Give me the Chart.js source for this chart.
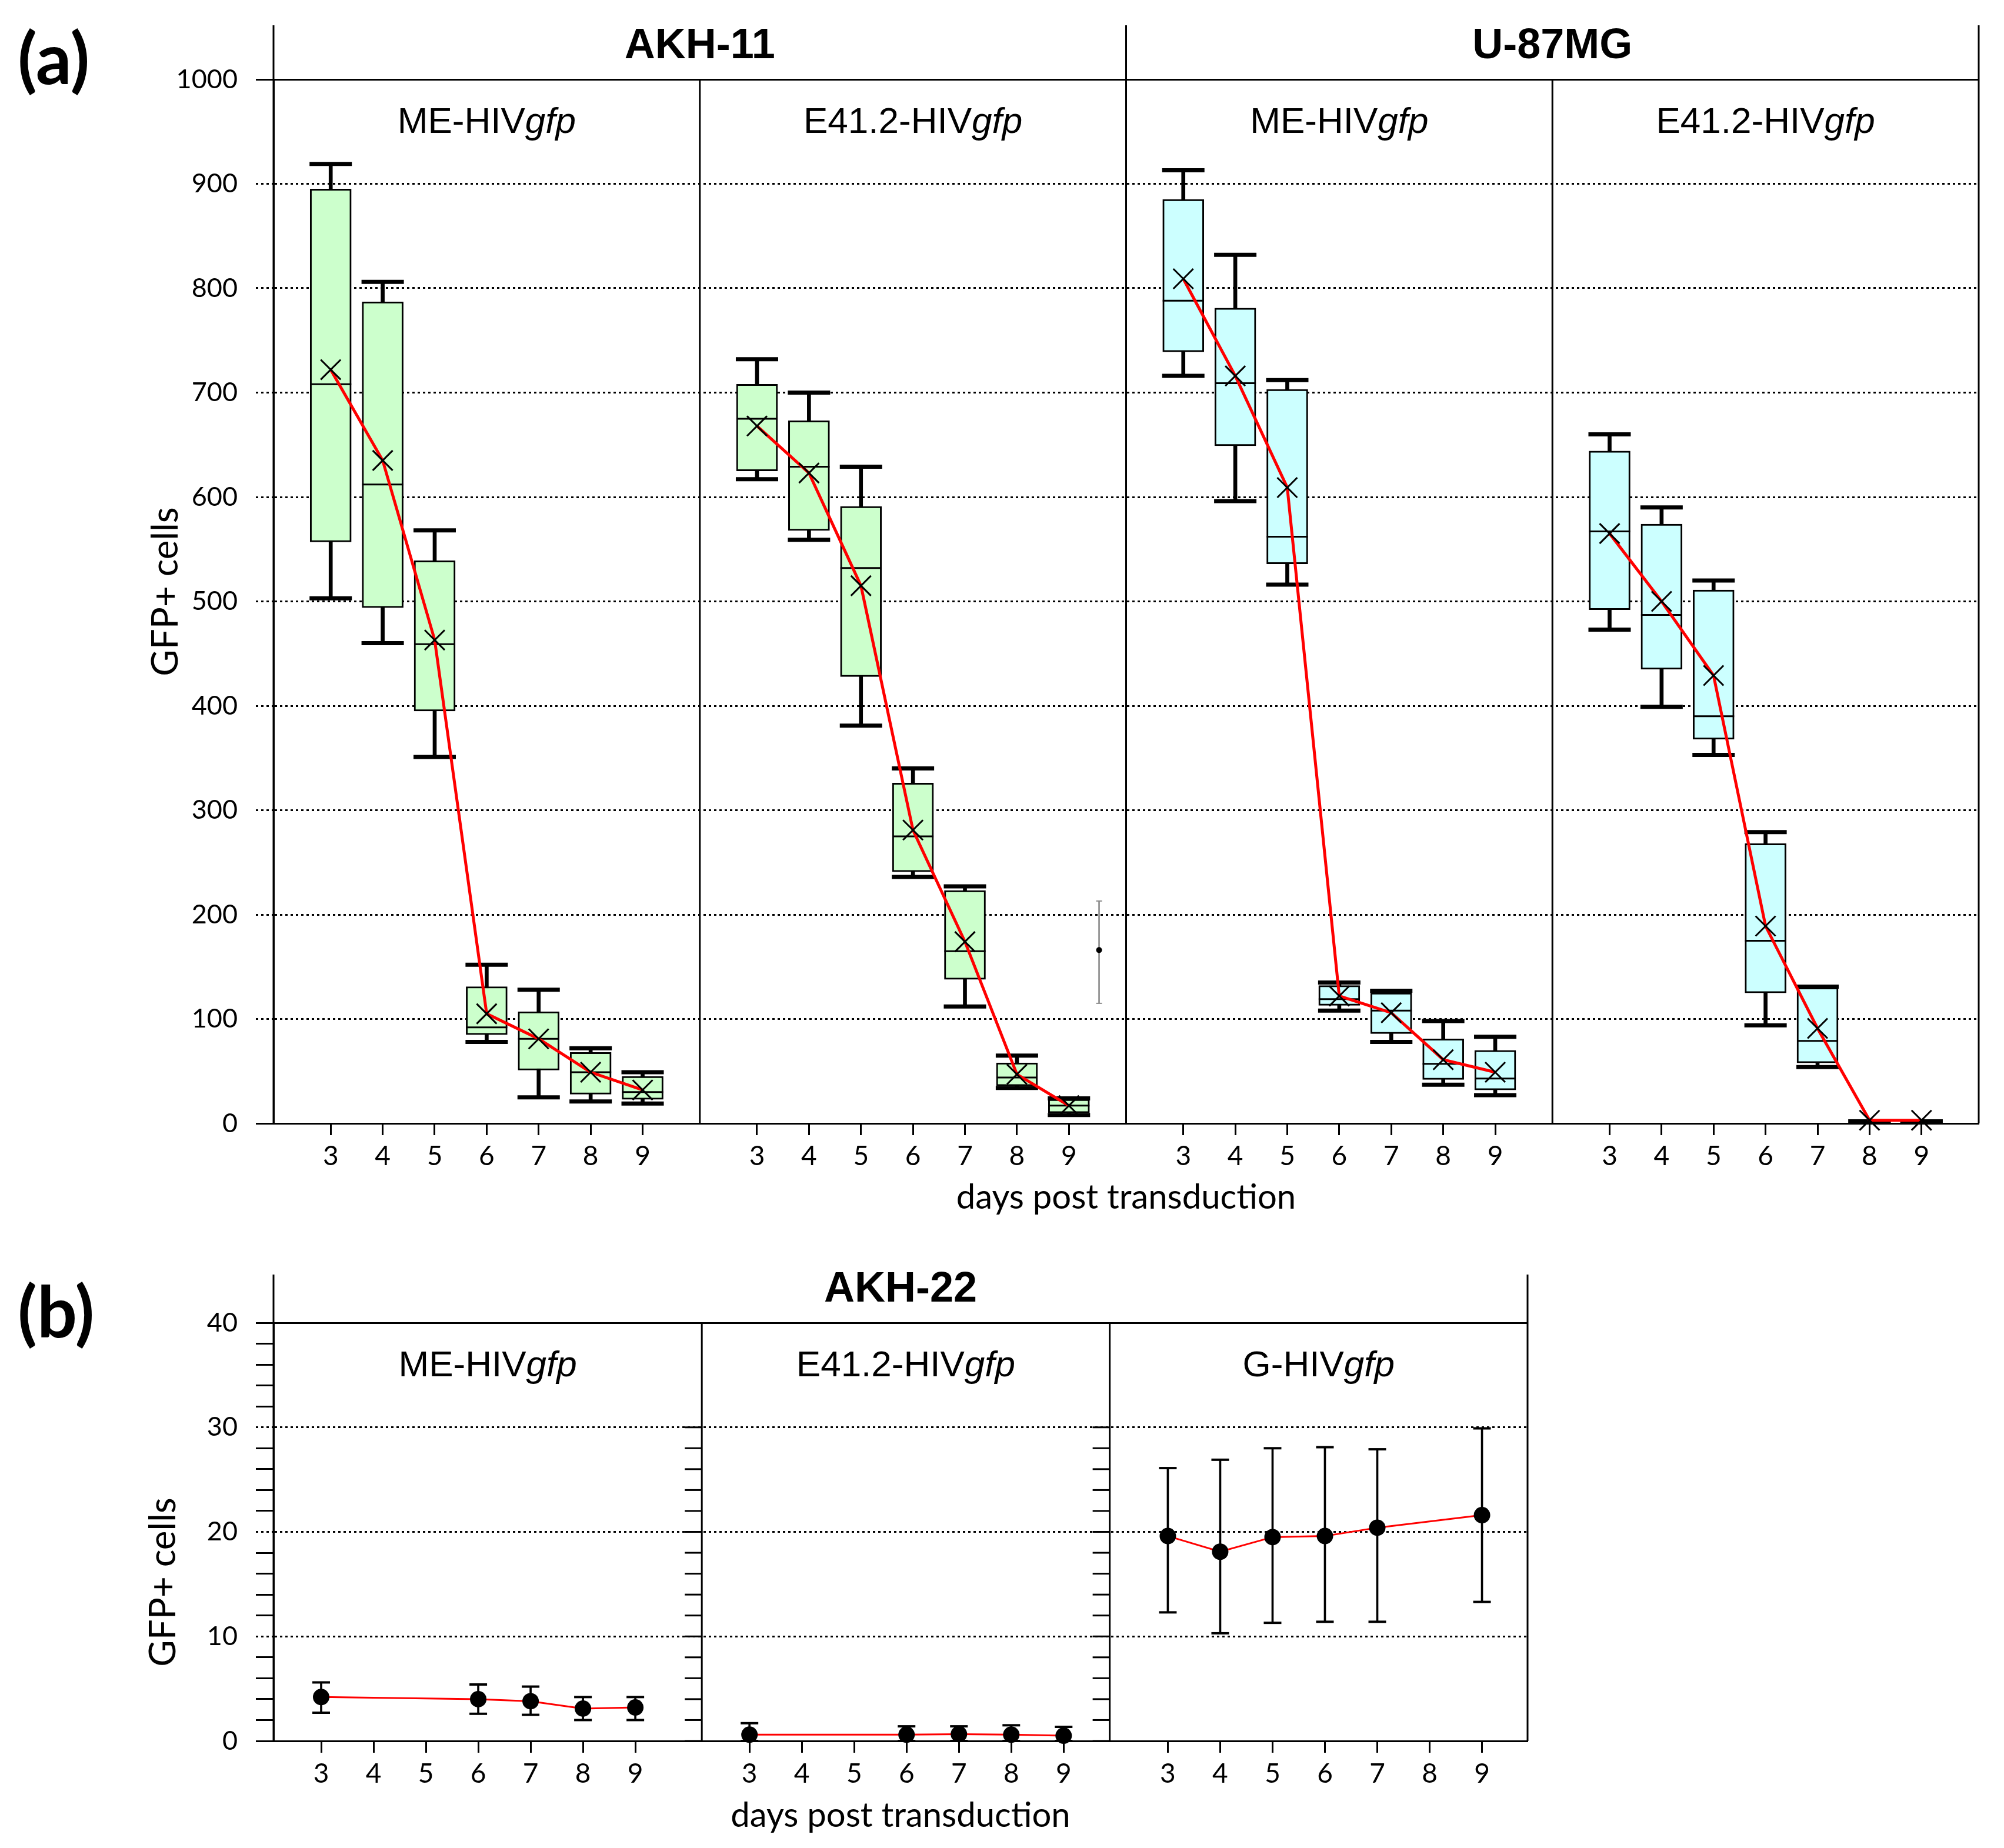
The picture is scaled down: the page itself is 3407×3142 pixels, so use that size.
<!DOCTYPE html>
<html>
<head>
<meta charset="utf-8">
<title>GFP+ cells after transduction</title>
<script src="https://cdn.jsdelivr.net/npm/chart.js@4.4.1/dist/chart.umd.min.js"></script>
<style>
  html, body { margin: 0; padding: 0; background: #fff; }
  #wrap { position: relative; width: 3407px; height: 3142px; }
  canvas { position: absolute; left: 0; }
  #chartA { top: 0; }
  #chartB { top: 2080px; }
</style>
</head>
<body>
<div id="wrap">
  <canvas id="chartA" width="3407" height="2080"></canvas>
  <canvas id="chartB" width="3407" height="1062"></canvas>
</div>
<script>
// (a) box plots, one row per panel: AKH-11 ME, AKH-11 E41.2, U-87MG ME, U-87MG E41.2
const days = [3, 4, 5, 6, 7, 8, 9];
const cellLinesA = ['AKH-11', 'U-87MG'];
const vectorsA = ['ME-HIV', 'E41.2-HIV', 'ME-HIV', 'E41.2-HIV'];
const boxMin = [
    [503, 460, 351, 78, 25, 21, 19],
    [617, 559, 381, 236, 112, 34, 8],
    [716, 596, 516, 108, 78, 37, 27],
    [473, 399, 353, 94, 54, 2, 2]
];
const boxQ1 = [
    [557, 494, 395, 85, 51, 28, 23],
    [625, 568, 428, 241, 138, 36, 10],
    [739, 649, 536, 113, 86, 42, 32],
    [492, 435, 368, 125, 58, 2, 2]
];
const boxMedian = [
    [708, 612, 459, 92, 81, 49, 30],
    [675, 629, 532, 275, 165, 44, 17],
    [788, 709, 562, 119, 108, 57, 43],
    [567, 487, 390, 175, 79, 2, 2]
];
const boxQ3 = [
    [895, 787, 539, 131, 107, 68, 45],
    [708, 673, 591, 326, 223, 58, 23],
    [885, 781, 703, 132, 125, 81, 70],
    [644, 574, 511, 268, 130, 2, 2]
];
const boxMax = [
    [919, 806, 568, 152, 128, 72, 49],
    [732, 700, 629, 340, 227, 65, 24],
    [913, 832, 712, 135, 127, 98, 83],
    [660, 590, 520, 279, 131, 2, 2]
];
const boxMean = [
    [722, 635, 463, 105, 81, 49, 32],
    [668, 623, 515, 281, 174, 47, 17],
    [809, 716, 609, 122, 106, 61, 49],
    [565, 500, 429, 189, 91, 3, 3]
];
// lone grey error bar right of day 9 in the AKH-11 / E41.2 panel
const strayDay = 9.58;
const strayValues = [115, 166, 213]; // low, point, high

// (b) mean +- error, one row per panel: ME, E41.2, G
const cellLineB = 'AKH-22';
const vectorsB = ['ME-HIV', 'E41.2-HIV', 'G-HIV'];
const dotDays = [[3, 6, 7, 8, 9], [3, 6, 7, 8, 9], [3, 4, 5, 6, 7, 9]];
const dotMean = [
    [4.2, 4.0, 3.8, 3.1, 3.2],
    [0.6, 0.6, 0.65, 0.6, 0.5],
    [19.6, 18.1, 19.5, 19.6, 20.4, 21.6]
];
const dotHigh = [
    [5.6, 5.4, 5.2, 4.2, 4.2],
    [1.7, 1.4, 1.4, 1.5, 1.35],
    [26.1, 26.9, 28.0, 28.1, 27.9, 29.9]
];
const dotLow = [
    [2.7, 2.6, 2.5, 2.0, 2.0],
    [0, 0, 0, 0, 0],
    [12.3, 10.3, 11.3, 11.4, 11.4, 13.3]
];

const FONT = 'Lato';
const TITLE_FONT = 'Liberation Sans';

// each panel gets its own stretch of one linear x axis
function panelMap(lo, width) {
    const offs = [];
    let acc = 0;
    width.forEach(w => { offs.push(acc); acc += w; });
    return {
        total: acc,
        offs,
        x: (p, d) => offs[p] + d - lo[p],
        day: v => {
            let p = offs.length - 1;
            while (p > 0 && v < offs[p] - 1e-6) p--;
            return Math.round(v - offs[p] + lo[p]);
        },
        edge: i => (i < offs.length ? offs[i] : acc)
    };
}
const mapA = panelMap([1.9, 1.9, 1.9, 1.9], [8.2, 8.2, 8.2, 8.2]);
const mapB = panelMap([2.09, 2.09, 1.89], [8.18, 7.79, 7.98]);

function drawVector(ctx, name, cx, baseline) {
    const regular = `62px "${TITLE_FONT}"`;
    const italic = `italic 62px "${TITLE_FONT}"`;
    ctx.font = regular;
    const w1 = ctx.measureText(name).width;
    ctx.font = italic;
    const w2 = ctx.measureText('gfp').width;
    const x0 = cx - (w1 + w2) / 2;
    ctx.textAlign = 'left';
    ctx.font = regular;
    ctx.fillText(name, x0, baseline);
    ctx.font = italic;
    ctx.fillText('gfp', x0 + w1, baseline);
}

// frame lines, header titles, y title and panel letter
const panelFrame = {
    id: 'panelFrame',
    afterDraw(chart, args, o) {
        const { ctx, chartArea: a, scales: { x, y } } = chart;
        const top = a.top - o.header;
        const seg = (x1, y1, x2, y2) => { ctx.beginPath(); ctx.moveTo(x1, y1); ctx.lineTo(x2, y2); ctx.stroke(); };
        ctx.save();
        ctx.strokeStyle = '#000';
        ctx.lineWidth = 3;
        seg(a.left, top, a.left, a.bottom);
        seg(a.right, top, a.right, a.bottom);
        for (let i = 1; i < o.map.offs.length; i++) {
            const px = x.getPixelForValue(o.map.offs[i]);
            seg(px, o.groupEdges.includes(i) ? top : a.top, px, a.bottom);
            if (o.sideTicks) {
                y.ticks.filter(t => t.value <= 30).forEach(t => {
                    const py = y.getPixelForValue(t.value);
                    seg(px - 29, py, px, py);
                });
            }
        }
        ctx.fillStyle = '#000';
        ctx.textBaseline = 'alphabetic';
        ctx.textAlign = 'center';
        ctx.font = `bold 72px "${TITLE_FONT}"`;
        o.groups.forEach(g => {
            const cx = (x.getPixelForValue(o.map.edge(g.from)) + x.getPixelForValue(o.map.edge(g.to))) / 2;
            ctx.fillText(g.text, cx, a.top - 36);
        });
        o.vectors.forEach((v, p) => {
            const cx = (x.getPixelForValue(o.map.edge(p)) + x.getPixelForValue(o.map.edge(p + 1))) / 2;
            drawVector(ctx, v, cx, a.top + 91);
        });
        // rotated y title
        ctx.save();
        ctx.translate(o.yTitle[0], o.yTitle[1]);
        ctx.rotate(-Math.PI / 2);
        ctx.textAlign = 'center';
        ctx.textBaseline = 'middle';
        ctx.font = `62px "${FONT}"`;
        ctx.fillText('GFP+ cells', 0, 0);
        ctx.restore();
        ctx.textAlign = 'left';
        ctx.font = `bold 120px "${FONT}"`;
        ctx.fillText(o.letter, 30, o.letterY);
        ctx.restore();
    }
};

function xAxis(map, height, titlePad) {
    const tickVals = [];
    map.offs.forEach((_, p) => days.forEach(d => tickVals.push(map.x(p, d))));
    return {
        type: 'linear',
        min: 0,
        max: map.total,
        offset: false,
        afterBuildTicks: s => { s.ticks = tickVals.map(v => ({ value: v })); },
        ticks: {
            autoSkip: false, maxRotation: 0, padding: 9, color: '#000',
            font: { family: FONT, size: 46 },
            callback: v => map.day(v)
        },
        grid: { drawOnChartArea: false, drawTicks: true, tickLength: 20, tickWidth: 3, tickColor: '#000', offset: false },
        border: { display: true, color: '#000', width: 3 },
        title: {
            display: true, text: 'days post transduction', color: '#000',
            font: { family: FONT, size: 58 }, padding: { top: 0, bottom: titlePad }
        },
        afterFit: s => { s.height = height; }
    };
}

function yAxis(max, step, isDotted, isMinor) {
    return {
        type: 'linear',
        min: 0,
        max: max,
        ticks: {
            stepSize: step, autoSkip: false, padding: 31, color: '#000',
            font: { family: FONT, size: 45 },
            callback: v => (isMinor(v) ? '' : v)
        },
        grid: {
            color: c => (c.tick && isMinor(c.tick.value) ? 'rgba(0,0,0,0)' : '#000'),
            lineWidth: 3, tickLength: 30, tickWidth: 3, tickColor: '#000',
            tickBorderDash: c => (c.tick && isDotted(c.tick.value) ? [4, 5] : [])
        },
        border: { display: true, color: '#000', width: 3, dash: c => (c.tick && isDotted(c.tick.value) ? [4, 5] : []) },
        afterFit: s => { s.width = 465; }
    };
}

// ---- chart (a) ----
const fillA = ['#ccffcc', '#ccffcc', '#ccffff', '#ccffff'];
const datasetsA = [];
vectorsA.forEach((_, p) => {
    const pts = arr => days.map((d, i) => ({ x: mapA.x(p, d), y: arr[p][i] }));
    const rng = (lo, hi) => days.map((d, i) => ({ x: mapA.x(p, d), y: [lo[p][i], hi[p][i]] }));
    datasetsA.push(
        { type: 'bar', data: rng(boxMin, boxMax), backgroundColor: '#000', borderWidth: 0, barThickness: 6, grouped: false, order: 6 },
        { type: 'bar', data: rng(boxQ1, boxQ3), backgroundColor: fillA[p], borderColor: '#000', borderWidth: 3,
          borderSkipped: false, barThickness: 70, grouped: false, order: 5 },
        { type: 'scatter', data: pts(boxMedian), pointStyle: 'line', pointRadius: 35, pointBorderWidth: 3, pointBorderColor: '#000', order: 4 },
        { type: 'scatter', data: pts(boxMin).concat(pts(boxMax)), pointStyle: 'line', pointRadius: 36,
          pointBorderWidth: 7, pointBorderColor: '#000', order: 4, clip: false },
        { type: 'line', data: pts(boxMean), borderColor: '#ff0000', borderWidth: 5, pointRadius: 0, order: 3 },
        { type: 'scatter', data: pts(boxMean), pointStyle: 'crossRot', pointRadius: 24, pointBorderWidth: 3,
          pointBorderColor: '#000', order: 2, clip: false }
    );
});
const strayX = mapA.x(1, strayDay);
datasetsA.push(
    { type: 'bar', data: [{ x: strayX, y: [strayValues[0], strayValues[2]] }], backgroundColor: '#8c8c8c',
      borderWidth: 0, barThickness: 2, grouped: false, order: 6 },
    { type: 'scatter', data: [{ x: strayX, y: strayValues[0] }, { x: strayX, y: strayValues[2] }], pointStyle: 'line',
      pointRadius: 5, pointBorderWidth: 2, pointBorderColor: '#8c8c8c', order: 4 },
    { type: 'scatter', data: [{ x: strayX, y: strayValues[1] }], pointRadius: 5, pointBackgroundColor: '#000',
      pointBorderWidth: 0, order: 2 }
);

new Chart(document.getElementById('chartA'), {
    type: 'bar',
    data: { datasets: datasetsA },
    plugins: [panelFrame],
    options: {
        responsive: false,
        animation: false,
        devicePixelRatio: 1,
        events: [],
        layout: { padding: { top: 135, right: 32, bottom: 0, left: 0 } },
        plugins: {
            legend: { display: false },
            tooltip: { enabled: false },
            panelFrame: {
                map: mapA, header: 92, groupEdges: [2], sideTicks: false,
                groups: [{ text: cellLinesA[0], from: 0, to: 2 }, { text: cellLinesA[1], from: 2, to: 4 }],
                vectors: vectorsA, letter: '(a)', letterY: 143, yTitle: [282, 1006]
            }
        },
        scales: {
            x: xAxis(mapA, 170, 9),
            y: yAxis(1000, 100, v => v > 0 && v < 1000, () => false)
        }
    }
});

// ---- chart (b) ----
const datasetsB = [];
vectorsB.forEach((_, p) => {
    const pts = arr => dotDays[p].map((d, i) => ({ x: mapB.x(p, d), y: arr[p][i] }));
    const rng = dotDays[p].map((d, i) => ({ x: mapB.x(p, d), y: [dotLow[p][i], dotHigh[p][i]] }));
    datasetsB.push(
        { type: 'bar', data: rng, backgroundColor: '#000', borderWidth: 0, barThickness: 3, grouped: false, order: 5 },
        { type: 'scatter', data: pts(dotLow).concat(pts(dotHigh)), pointStyle: 'line', pointRadius: 15,
          pointBorderWidth: 4, pointBorderColor: '#000', order: 4 },
        { type: 'line', data: pts(dotMean), borderColor: '#ff0000', borderWidth: 3, pointRadius: 0, order: 3 },
        { type: 'scatter', data: pts(dotMean), pointStyle: 'circle', pointRadius: 14, pointBackgroundColor: '#000',
          pointBorderWidth: 0, order: 2, clip: false }
    );
});

new Chart(document.getElementById('chartB'), {
    type: 'bar',
    data: { datasets: datasetsB },
    plugins: [panelFrame],
    options: {
        responsive: false,
        animation: false,
        devicePixelRatio: 1,
        events: [],
        layout: { padding: { top: 169, right: 810, bottom: 0, left: 0 } },
        plugins: {
            legend: { display: false },
            tooltip: { enabled: false },
            panelFrame: {
                map: mapB, header: 82, groupEdges: [], sideTicks: true,
                groups: [{ text: cellLineB, from: 0, to: 3 }],
                vectors: vectorsB, letter: '(b)', letterY: 194, yTitle: [278, 610]
            }
        },
        scales: {
            x: xAxis(mapB, 182, 20),
            y: yAxis(40, 2, v => v > 0 && v < 40 && v % 10 === 0, v => v % 10 !== 0)
        }
    }
});
</script>
</body>
</html>
